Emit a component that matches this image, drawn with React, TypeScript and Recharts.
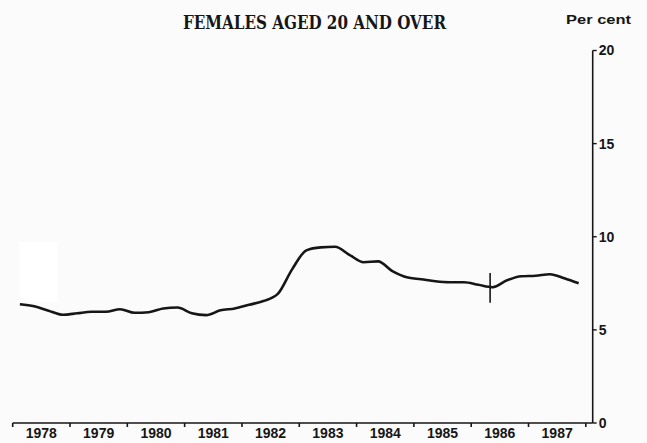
import React from "react";
import { LineChart, Line, XAxis, YAxis, ReferenceLine } from "recharts";

// ---- data ----
const title = "FEMALES AGED 20 AND OVER";
const unitLabel = "Per cent";
const startYear = 1978;
const yearTicks = [1978, 1979, 1980, 1981, 1982, 1983, 1984, 1985, 1986, 1987, 1988];
const yearLabelPositions = [1978.5, 1979.5, 1980.5, 1981.5, 1982.5, 1983.5, 1984.5, 1985.5, 1986.5, 1987.5];
const valueTicks = [0, 5, 10, 15, 20];
// quarterly unemployment rate, per cent, 1978 Q1 .. 1987 Q4
const rate1978 = [6.38, 6.27, 6.03, 5.81];
const rate1979 = [5.89, 5.97, 5.97, 6.11];
const rate1980 = [5.92, 5.95, 6.15, 6.2];
const rate1981 = [5.89, 5.79, 6.05, 6.15];
const rate1982 = [6.35, 6.55, 6.93, 8.25];
const rate1983 = [9.27, 9.43, 9.46, 9.03];
const rate1984 = [8.63, 8.68, 8.15, 7.82];
const rate1985 = [7.72, 7.61, 7.56, 7.56];
const rate1986 = [7.42, 7.29, 7.66, 7.88];
const rate1987 = [7.91, 7.99, 7.77, 7.5];
// series break marker
const breakTime = 1986.33;
const breakRange = [6.45, 8.05];

const allRates = [
  ...rate1978, ...rate1979, ...rate1980, ...rate1981, ...rate1982,
  ...rate1983, ...rate1984, ...rate1985, ...rate1986, ...rate1987,
];
const data = allRates.map((v, i) => ({ t: startYear + (i + 0.5) / 4, v }));

const INK = "#161616";
const tickFont = { fontFamily: "'Liberation Sans', Arial, sans-serif", fontWeight: 700, fontSize: 14, fill: INK };

export default function App() {
  return (
    <div style={{ position: "absolute", left: 0, top: 0, width: 647, height: 443, background: "#fbfbfb" }}>
      <div style={{ position: "absolute", left: 19, top: 242, width: 38, height: 60, background: "#ffffff" }} />
      <div style={{ position: "absolute", left: 0, top: 0 }}>
        <LineChart width={647} height={443} data={data} margin={{ top: 50.5, right: 0, bottom: 0, left: 12.7 }}>
          <XAxis
            xAxisId={0}
            dataKey="t"
            type="number"
            domain={[1978, 1988.12]}
            ticks={yearTicks}
            tickFormatter={() => ""}
            tickSize={4}
            height={1}
            interval={0}
            axisLine={{ stroke: INK, strokeWidth: 1.6 }}
            tickLine={{ stroke: INK, strokeWidth: 1.6 }}
            allowDataOverflow
          />
          <XAxis
            xAxisId={1}
            dataKey="t"
            type="number"
            domain={[1978, 1988.12]}
            ticks={yearLabelPositions}
            tickFormatter={(v: number) => String(Math.floor(v))}
            tick={tickFont}
            tickLine={false}
            axisLine={false}
            tickSize={3}
            tickMargin={1}
            height={19}
            interval={0}
            allowDataOverflow
          />
          <YAxis
            orientation="right"
            type="number"
            domain={[0, 20]}
            ticks={valueTicks}
            width={54.3}
            tickSize={4}
            tickMargin={2}
            tick={{ ...tickFont, textAnchor: "start" }}
            axisLine={{ stroke: INK, strokeWidth: 1.6 }}
            tickLine={{ stroke: INK, strokeWidth: 1.4 }}
            interval={0}
          />
          <Line
            xAxisId={0}
            dataKey="v"
            type="monotone"
            stroke={INK}
            strokeWidth={2.6}
            dot={false}
            isAnimationActive={false}
          />
          <ReferenceLine
            xAxisId={0}
            segment={[{ x: breakTime, y: breakRange[0] }, { x: breakTime, y: breakRange[1] }]}
            stroke={INK}
            strokeWidth={1.6}
            ifOverflow="visible"
          />
        </LineChart>
      </div>
      <svg width={647} height={443} style={{ position: "absolute", left: 0, top: 0, pointerEvents: "none" }}>
        <text
          x={314.5}
          y={29}
          textAnchor="middle"
          textLength={263}
          lengthAdjust="spacingAndGlyphs"
          style={{ fontFamily: "'DejaVu Serif', serif", fontWeight: 700, fontSize: 18, fill: INK }}
        >
          {title}
        </text>
        <text
          x={566}
          y={24}
          textLength={65}
          lengthAdjust="spacingAndGlyphs"
          style={{ fontFamily: "'Liberation Sans', Arial, sans-serif", fontWeight: 700, fontSize: 12, fill: INK }}
        >
          {unitLabel}
        </text>
      </svg>
    </div>
  );
}
